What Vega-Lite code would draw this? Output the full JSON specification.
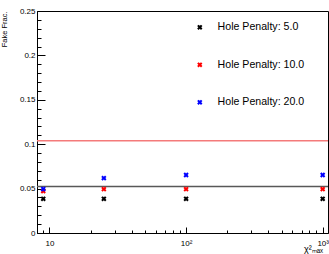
{
  "$schema": "https://vega.github.io/schema/vega-lite/v6.json",
  "width": 291,
  "height": 222,
  "autosize": {"type": "none"},
  "padding": {"left": 37, "top": 11, "right": 1, "bottom": 21},
  "background": "white",
  "config": {
    "view": {"stroke": "black", "strokeWidth": 1},
    "font": "Liberation Sans",
    "axis": {
      "grid": false,
      "domainColor": "black",
      "tickColor": "black",
      "labelColor": "black",
      "titleColor": "black",
      "labelFont": "Liberation Sans",
      "titleFont": "Liberation Sans",
      "titleFontWeight": "normal"
    },
    "legend": {"labelFont": "Liberation Sans"}
  },
  "datasets": {
    "points": [
      {"chi2max": 9, "frac": 0.0385, "penalty": "Hole Penalty: 5.0"},
      {"chi2max": 25, "frac": 0.0385, "penalty": "Hole Penalty: 5.0"},
      {"chi2max": 100, "frac": 0.0385, "penalty": "Hole Penalty: 5.0"},
      {"chi2max": 1000, "frac": 0.0385, "penalty": "Hole Penalty: 5.0"},
      {"chi2max": 9, "frac": 0.0472, "penalty": "Hole Penalty: 10.0"},
      {"chi2max": 25, "frac": 0.0494, "penalty": "Hole Penalty: 10.0"},
      {"chi2max": 100, "frac": 0.0494, "penalty": "Hole Penalty: 10.0"},
      {"chi2max": 1000, "frac": 0.0494, "penalty": "Hole Penalty: 10.0"},
      {"chi2max": 9, "frac": 0.0495, "penalty": "Hole Penalty: 20.0"},
      {"chi2max": 25, "frac": 0.0618, "penalty": "Hole Penalty: 20.0"},
      {"chi2max": 100, "frac": 0.0653, "penalty": "Hole Penalty: 20.0"},
      {"chi2max": 1000, "frac": 0.0653, "penalty": "Hole Penalty: 20.0"}
    ],
    "lines": [
      {"name": "baseline", "frac": 0.0525},
      {"name": "cut", "frac": 0.104}
    ]
  },
  "layer": [
    {
      "data": {"name": "lines"},
      "mark": {"type": "rule", "strokeWidth": 1.5},
      "encoding": {
        "y": {"field": "frac", "type": "quantitative", "scale": {"domain": [0, 0.25], "nice": false, "zero": false}, "axis": null},
        "color": {"field": "name", "type": "nominal", "scale": {"domain": ["baseline", "cut"], "range": ["#585858", "#f47a7a"]}, "legend": null}
      }
    },
    {
      "data": {"name": "points"},
      "mark": {"type": "point", "filled": true, "opacity": 1, "shape": "M-1,-0.45L-0.45,-1L0,-0.55L0.45,-1L1,-0.45L0.55,0L1,0.45L0.45,1L0,0.55L-0.45,1L-1,0.45L-0.55,0Z", "size": 28},
      "encoding": {
        "x": {
          "field": "chi2max", "type": "quantitative",
          "scale": {"type": "log", "domain": [8.1, 1094], "nice": false},
          "axis": {
            "orient": "bottom",
            "values": [10, 100, 1000],
            "tickSize": -6,
            "labelExpr": "datum.value == 10 ? '10' : (datum.value == 100 ? '10²' : '10³')",
            "labelFontSize": 8,
            "labelPadding": 12,
            "labelFlush": false,
            "labelOverlap": false,
            "title": "χ²ₘₐₓ",
            "titleFontSize": 9,
            "titleX": 276,
            "titleY": 18,
            "titleAlign": "center",
            "titleBaseline": "alphabetic"
          }
        },
        "y": {
          "field": "frac", "type": "quantitative",
          "scale": {"domain": [0, 0.25], "nice": false, "zero": false},
          "axis": {
            "orient": "left",
            "values": [0, 0.05, 0.1, 0.15, 0.2, 0.25],
            "format": "~g",
            "tickSize": -8,
            "labelFontSize": 8,
            "labelPadding": 10,
            "labelFlush": false,
            "labelOverlap": false,
            "title": "Fake Frac.",
            "titleFontSize": 7.5,
            "titleAngle": -90,
            "titleX": -31,
            "titleY": 0,
            "titleAlign": "right",
            "titleBaseline": "alphabetic"
          }
        },
        "color": {
          "field": "penalty", "type": "nominal",
          "scale": {"domain": ["Hole Penalty: 5.0", "Hole Penalty: 10.0", "Hole Penalty: 20.0"], "range": ["#000000", "#ff0000", "#0000ff"]},
          "legend": {
            "orient": "none",
            "legendX": 157.5,
            "legendY": 11,
            "title": null,
            "padding": 0,
            "symbolType": "M-1,-0.45L-0.45,-1L0,-0.55L0.45,-1L1,-0.45L0.55,0L1,0.45L0.45,1L0,0.55L-0.45,1L-1,0.45L-0.55,0Z",
            "symbolSize": 28,
            "symbolStrokeWidth": 0,
            "labelFontSize": 10.6,
            "labelColor": "black",
            "labelOffset": 12.5,
            "rowPadding": 26.5
          }
        }
      }
    },
    {
      "data": {"name": "points"},
      "mark": {"type": "point", "opacity": 0},
      "encoding": {
        "x": {
          "field": "chi2max", "type": "quantitative",
          "scale": {"type": "log", "domain": [8.1, 1094], "nice": false},
          "axis": {
            "orient": "bottom",
            "values": [9, 20, 30, 40, 50, 60, 70, 80, 90, 200, 300, 400, 500, 600, 700, 800, 900],
            "tickSize": -3,
            "labels": false,
            "domain": false,
            "title": null
          }
        },
        "y": {
          "field": "frac", "type": "quantitative",
          "scale": {"domain": [0, 0.25], "nice": false, "zero": false},
          "axis": {
            "orient": "left",
            "values": [0.01, 0.02, 0.03, 0.04, 0.06, 0.07, 0.08, 0.09, 0.11, 0.12, 0.13, 0.14, 0.16, 0.17, 0.18, 0.19, 0.21, 0.22, 0.23, 0.24],
            "tickSize": -4,
            "labels": false,
            "domain": false,
            "title": null
          }
        }
      }
    }
  ],
  "resolve": {
    "scale": {"color": "independent"},
    "axis": {"x": "independent", "y": "independent"}
  }
}
